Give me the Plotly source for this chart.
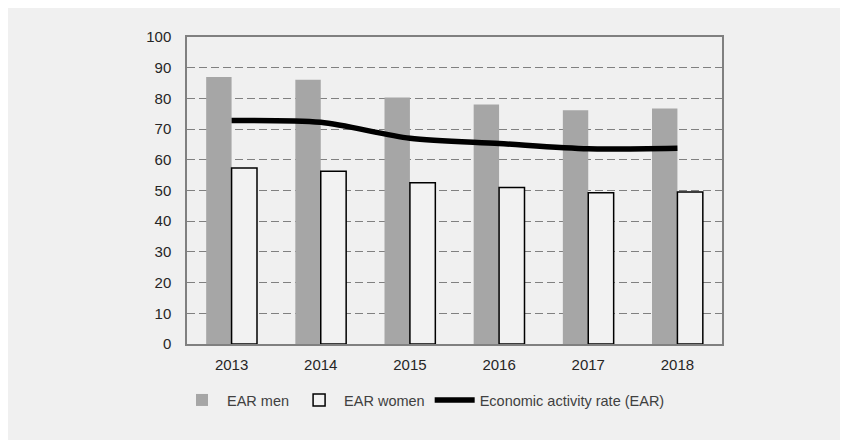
import plotly.graph_objects as go

years = ["2013", "2014", "2015", "2016", "2017", "2018"]
ear_men = [87.0, 86.1, 80.3, 78.0, 76.1, 76.7]
ear_women = [57.3, 56.3, 52.5, 51.0, 49.3, 49.5]
ear_total = [72.8, 72.2, 67.0, 65.3, 63.6, 63.8]

fig = go.Figure()
fig.add_trace(go.Bar(x=years, y=ear_men, name="EAR men",
                     marker=dict(color="#a6a6a6", line=dict(width=0))))
fig.add_trace(go.Bar(x=years, y=ear_women, name="EAR women",
                     marker=dict(color="#f2f2f2", line=dict(color="#000000", width=1.5))))
fig.add_trace(go.Scatter(x=years, y=ear_total, name="Economic activity rate (EAR)",
                         mode="lines", line=dict(color="#000000", width=5.5, shape="spline", smoothing=0.8)))

fig.update_layout(
    width=848, height=440,
    paper_bgcolor="#f0f0f0", plot_bgcolor="#f0f0f0",
    margin=dict(l=179, r=134, t=29, b=104),
    barmode="group", bargap=0.43, bargroupgap=0,
    font=dict(family="Liberation Sans, Arial, sans-serif", size=15, color="#262626"),
    showlegend=True,
    legend=dict(orientation="h", xref="container", yref="container",
                x=0.49, xanchor="center", y=0.109, yanchor="middle",
                font=dict(size=14.5, color="#404040"), bgcolor="rgba(0,0,0,0)",
                traceorder="normal", itemwidth=40),
    xaxis=dict(showgrid=False, showline=True, linecolor="#808080", linewidth=1.5,
               mirror=True, ticks="", ticklabelstandoff=6,
               tickfont=dict(size=15, color="#262626")),
    yaxis=dict(range=[0, 100], dtick=10, showgrid=True, gridcolor="#808080",
               griddash="8px,4px", gridwidth=1, showline=True, linecolor="#808080",
               linewidth=1.5, mirror=True, ticks="", zeroline=False, ticklabelstandoff=11,
               tickfont=dict(size=15, color="#262626")),
)

fig.write_html("out.html")
